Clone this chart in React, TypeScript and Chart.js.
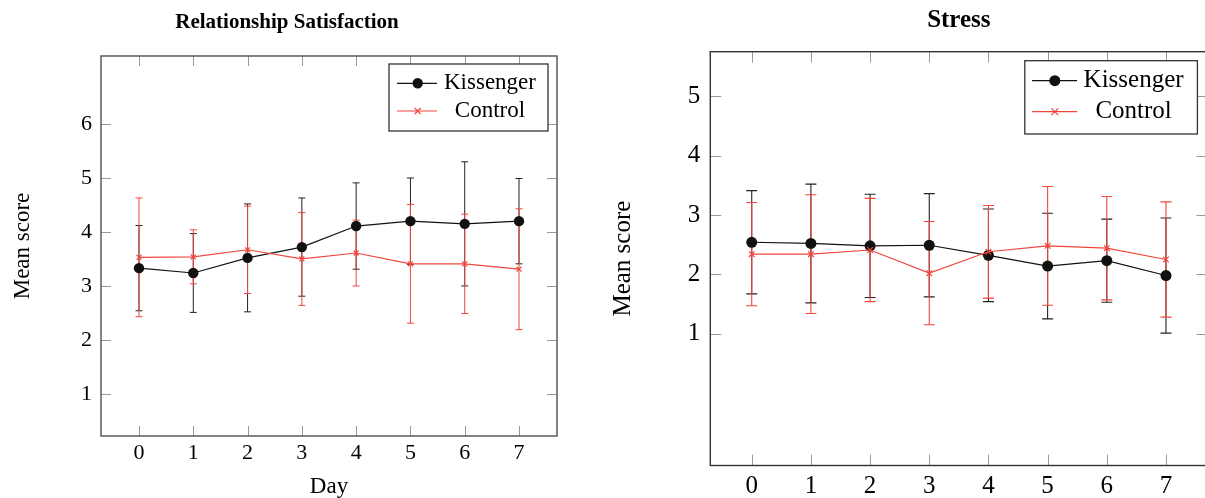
import React, { useEffect, useRef } from "react";
import { Chart, registerables } from "chart.js";

Chart.register(...registerables);

// ---------------- data ----------------
const DAYS = [0, 1, 2, 3, 4, 5, 6, 7];
const X_TICKS = [0, 1, 2, 3, 4, 5, 6, 7];
const SERIES_NAMES = ["Kissenger", "Control"];

const SAT_TITLE = "Relationship Satisfaction";
const SAT_Y_TICKS = [1, 2, 3, 4, 5, 6];
const SAT_KISS_MEAN = [3.33, 3.24, 3.52, 3.72, 4.11, 4.2, 4.15, 4.2];
const SAT_KISS_ERR = [0.79, 0.73, 1.0, 0.91, 0.8, 0.8, 1.15, 0.79];
const SAT_CTRL_MEAN = [3.53, 3.54, 3.67, 3.5, 3.61, 3.41, 3.41, 3.31];
const SAT_CTRL_ERR = [1.1, 0.5, 0.81, 0.86, 0.61, 1.1, 0.92, 1.12];

const STRESS_TITLE = "Stress";
const STRESS_Y_TICKS = [1, 2, 3, 4, 5];
const STRESS_KISS_MEAN = [2.54, 2.52, 2.48, 2.49, 2.32, 2.14, 2.23, 1.98];
const STRESS_KISS_ERR = [0.87, 1.0, 0.87, 0.87, 0.78, 0.89, 0.7, 0.97];
const STRESS_CTRL_MEAN = [2.34, 2.34, 2.41, 2.02, 2.38, 2.48, 2.44, 2.25];
const STRESS_CTRL_ERR = [0.87, 1.0, 0.87, 0.87, 0.78, 1.0, 0.87, 0.97];

const X_LABEL = "Day";
const Y_LABEL = "Mean score";

// ---------------- styles ----------------
const SERIF = '"Liberation Serif", "Times New Roman", serif';
const KISS_COLOR = "#111111";
const CTRL_COLOR = "#f0463c";

const decorPlugin = {
  id: "panelDecor",
  beforeDatasetsDraw(chart: any, _args: any, o: any) {
    const { ctx, chartArea: a, scales } = chart;
    const xs = scales.x;
    const ys = scales.y;
    ctx.save();
    // inner mirrored ticks
    ctx.strokeStyle = o.tickColor;
    ctx.lineWidth = 1;
    ctx.beginPath();
    xs.ticks.forEach((t: any) => {
      const px = Math.round(xs.getPixelForValue(t.value)) + 0.5;
      ctx.moveTo(px, a.bottom);
      ctx.lineTo(px, a.bottom - o.tickLen);
      ctx.moveTo(px, a.top);
      ctx.lineTo(px, a.top + o.tickLen);
    });
    ys.ticks.forEach((t: any) => {
      const py = Math.round(ys.getPixelForValue(t.value)) + 0.5;
      ctx.moveTo(a.left, py);
      ctx.lineTo(a.left + o.tickLen, py);
      ctx.moveTo(a.right, py);
      ctx.lineTo(a.right - o.tickLen, py);
    });
    ctx.stroke();
    // frame
    ctx.strokeStyle = o.frameColor;
    ctx.lineWidth = 1.4;
    ctx.strokeRect(a.left, a.top, a.right - a.left, a.bottom - a.top);
    // error bars
    chart.data.datasets.forEach((ds: any) => {
      ctx.strokeStyle = ds.errorColor;
      ctx.lineWidth = o.errWidth;
      ctx.beginPath();
      ds.data.forEach((pt: any, j: number) => {
        const e = ds.errors[j];
        const px = xs.getPixelForValue(pt.x);
        const top = ys.getPixelForValue(pt.y + e);
        const bot = ys.getPixelForValue(pt.y - e);
        ctx.moveTo(px, top);
        ctx.lineTo(px, bot);
        ctx.moveTo(px - o.capHalf, top);
        ctx.lineTo(px + o.capHalf, top);
        ctx.moveTo(px - o.capHalf, bot);
        ctx.lineTo(px + o.capHalf, bot);
      });
      ctx.stroke();
    });
    ctx.restore();
  },
  afterDraw(chart: any, _args: any, o: any) {
    const { ctx, chartArea: a } = chart;
    const L = o.legend;
    const bx = a.right - L.right - L.w;
    const by = a.top + L.top;
    ctx.save();
    ctx.fillStyle = "#ffffff";
    ctx.fillRect(bx, by, L.w, L.h);
    ctx.strokeStyle = "#333333";
    ctx.lineWidth = 1.3;
    ctx.strokeRect(bx, by, L.w, L.h);
    chart.data.datasets.forEach((ds: any, i: number) => {
      const cy = by + L.row1 + i * L.rowGap;
      ctx.strokeStyle = ds.borderColor;
      ctx.lineWidth = ds.borderWidth;
      ctx.beginPath();
      ctx.moveTo(bx + L.line0, cy);
      ctx.lineTo(bx + L.line1, cy);
      ctx.stroke();
      const mx = bx + L.marker;
      if (ds.pointStyle === "circle") {
        ctx.fillStyle = ds.backgroundColor;
        ctx.beginPath();
        ctx.arc(mx, cy, ds.pointRadius, 0, Math.PI * 2);
        ctx.fill();
      } else {
        const r = ds.pointRadius * 0.85;
        ctx.lineWidth = ds.pointBorderWidth;
        ctx.beginPath();
        ctx.moveTo(mx - r, cy - r);
        ctx.lineTo(mx + r, cy + r);
        ctx.moveTo(mx - r, cy + r);
        ctx.lineTo(mx + r, cy - r);
        ctx.stroke();
      }
      ctx.fillStyle = "#000000";
      ctx.font = `${L.font}px ${SERIF}`;
      ctx.textAlign = "center";
      ctx.textBaseline = "middle";
      ctx.fillText(ds.label, bx + L.textX, cy);
    });
    ctx.restore();
  },
};

type Panel = {
  left: number;
  w: number;
  h: number;
  title: string;
  titleSize: number;
  titlePad: { top: number; bottom: number };
  titleFull: boolean;
  padding: { left: number; right: number; top: number; bottom: number };
  yTicks: number[];
  yMin: number;
  yMax: number;
  yAxisW: number;
  xAxisH: number;
  tickSize: number;
  xTickPad: number;
  yTickPad: number;
  labelSize: number;
  yTitlePad: number;
  xTitle: boolean;
  xTitlePad: number;
  kissMean: number[];
  kissErr: number[];
  ctrlMean: number[];
  ctrlErr: number[];
  dotR: number;
  crossR: number;
  decor: any;
};

const PANELS: Panel[] = [
  {
    left: 0,
    w: 600,
    h: 498,
    title: SAT_TITLE,
    titleSize: 21,
    titlePad: { top: 10.4, bottom: 20.4 },
    titleFull: true,
    padding: { left: 17, right: 43, top: 0, bottom: 0 },
    yTicks: SAT_Y_TICKS,
    yMin: 0.22,
    yMax: 7.26,
    yAxisW: 84,
    xAxisH: 62,
    tickSize: 22,
    xTickPad: 4,
    yTickPad: 9,
    labelSize: 23,
    yTitlePad: -7.8,
    xTitle: true,
    xTitlePad: -3,
    kissMean: SAT_KISS_MEAN,
    kissErr: SAT_KISS_ERR,
    ctrlMean: SAT_CTRL_MEAN,
    ctrlErr: SAT_CTRL_ERR,
    dotR: 5.2,
    crossR: 3.5,
    decor: {
      tickLen: 10,
      tickColor: "#9a9a9a",
      frameColor: "#505050",
      capHalf: 3.5,
      errWidth: 1,
      legend: { right: 9, top: 8, w: 159, h: 67, row1: 19.3, rowGap: 27.7, line0: 8, line1: 48, marker: 28.7, textX: 101, font: 23 },
    },
  },
  {
    left: 600,
    w: 620,
    h: 498,
    title: STRESS_TITLE,
    titleSize: 25,
    titlePad: { top: 5.3, bottom: 16.4 },
    titleFull: false,
    padding: { left: 0, right: 12.6, top: 0, bottom: 0 },
    yTicks: STRESS_Y_TICKS,
    yMin: -1.22,
    yMax: 5.75,
    yAxisW: 110.3,
    xAxisH: 32.5,
    tickSize: 25,
    xTickPad: 6,
    yTickPad: 10,
    labelSize: 25,
    yTitlePad: 8,
    xTitle: false,
    xTitlePad: 0,
    kissMean: STRESS_KISS_MEAN,
    kissErr: STRESS_KISS_ERR,
    ctrlMean: STRESS_CTRL_MEAN,
    ctrlErr: STRESS_CTRL_ERR,
    dotR: 5.5,
    crossR: 4,
    decor: {
      tickLen: 11,
      tickColor: "#9a9a9a",
      frameColor: "#333333",
      capHalf: 5.5,
      errWidth: 1.1,
      legend: { right: 10, top: 9, w: 172.6, h: 73.3, row1: 20, rowGap: 31, line0: 7.3, line1: 52.3, marker: 30, textX: 108.8, font: 25 },
    },
  },
];

function buildConfig(p: Panel): any {
  return {
    type: "line",
    data: {
      datasets: [
        {
          label: SERIES_NAMES[0],
          data: DAYS.map((d, i) => ({ x: d, y: p.kissMean[i] })),
          errors: p.kissErr,
          errorColor: "#222222",
          borderColor: KISS_COLOR,
          backgroundColor: KISS_COLOR,
          borderWidth: 1.2,
          pointStyle: "circle",
          pointRadius: p.dotR,
          pointBorderWidth: 0,
          tension: 0,
          order: 1,
        },
        {
          label: SERIES_NAMES[1],
          data: DAYS.map((d, i) => ({ x: d, y: p.ctrlMean[i] })),
          errors: p.ctrlErr,
          errorColor: CTRL_COLOR,
          borderColor: CTRL_COLOR,
          backgroundColor: CTRL_COLOR,
          borderWidth: 1.2,
          pointStyle: "crossRot",
          pointRadius: p.crossR,
          pointBorderWidth: 1.2,
          tension: 0,
          order: 0,
        },
      ],
    },
    options: {
      responsive: false,
      animation: false,
      layout: { padding: p.padding },
      plugins: {
        legend: { display: false },
        tooltip: { enabled: false },
        title: {
          display: true,
          text: p.title,
          fullSize: p.titleFull,
          color: "#000000",
          font: { family: SERIF, size: p.titleSize, weight: "bold" },
          padding: p.titlePad,
        },
        panelDecor: p.decor,
      },
      scales: {
        x: {
          type: "linear",
          min: -0.7,
          max: 7.7,
          afterBuildTicks: (s: any) => {
            s.ticks = X_TICKS.map((v) => ({ value: v }));
          },
          afterFit: (s: any) => {
            s.height = p.xAxisH;
          },
          grid: { display: false, drawTicks: false },
          border: { display: false },
          ticks: {
            color: "#000000",
            font: { family: SERIF, size: p.tickSize },
            padding: p.xTickPad,
            maxRotation: 0,
            autoSkip: false,
          },
          title: {
            display: p.xTitle,
            text: X_LABEL,
            color: "#000000",
            font: { family: SERIF, size: p.labelSize },
            padding: { top: 0, bottom: p.xTitlePad },
          },
        },
        y: {
          type: "linear",
          min: p.yMin,
          max: p.yMax,
          afterBuildTicks: (s: any) => {
            s.ticks = p.yTicks.map((v) => ({ value: v }));
          },
          afterFit: (s: any) => {
            s.width = p.yAxisW;
          },
          grid: { display: false, drawTicks: false },
          border: { display: false },
          ticks: {
            color: "#000000",
            font: { family: SERIF, size: p.tickSize },
            padding: p.yTickPad,
            autoSkip: false,
          },
          title: {
            display: true,
            text: Y_LABEL,
            color: "#000000",
            font: { family: SERIF, size: p.labelSize },
            padding: { top: p.yTitlePad, bottom: 0 },
          },
        },
      },
    },
    plugins: [decorPlugin],
  };
}

function ChartPanel({ panel }: { panel: Panel }) {
  const ref = useRef<HTMLCanvasElement>(null);
  useEffect(() => {
    const chart = new Chart(ref.current as HTMLCanvasElement, buildConfig(panel));
    return () => chart.destroy();
  }, [panel]);
  return (
    <canvas
      ref={ref}
      width={panel.w}
      height={panel.h}
      style={{ position: "absolute", left: panel.left, top: 0, width: panel.w, height: panel.h }}
    />
  );
}

export default function App() {
  return (
    <div
      style={{
        position: "fixed",
        left: 0,
        top: 0,
        width: 1205,
        height: 498,
        overflow: "hidden",
        background: "#ffffff",
      }}
    >
      {PANELS.map((p, i) => (
        <ChartPanel key={i} panel={p} />
      ))}
    </div>
  );
}
